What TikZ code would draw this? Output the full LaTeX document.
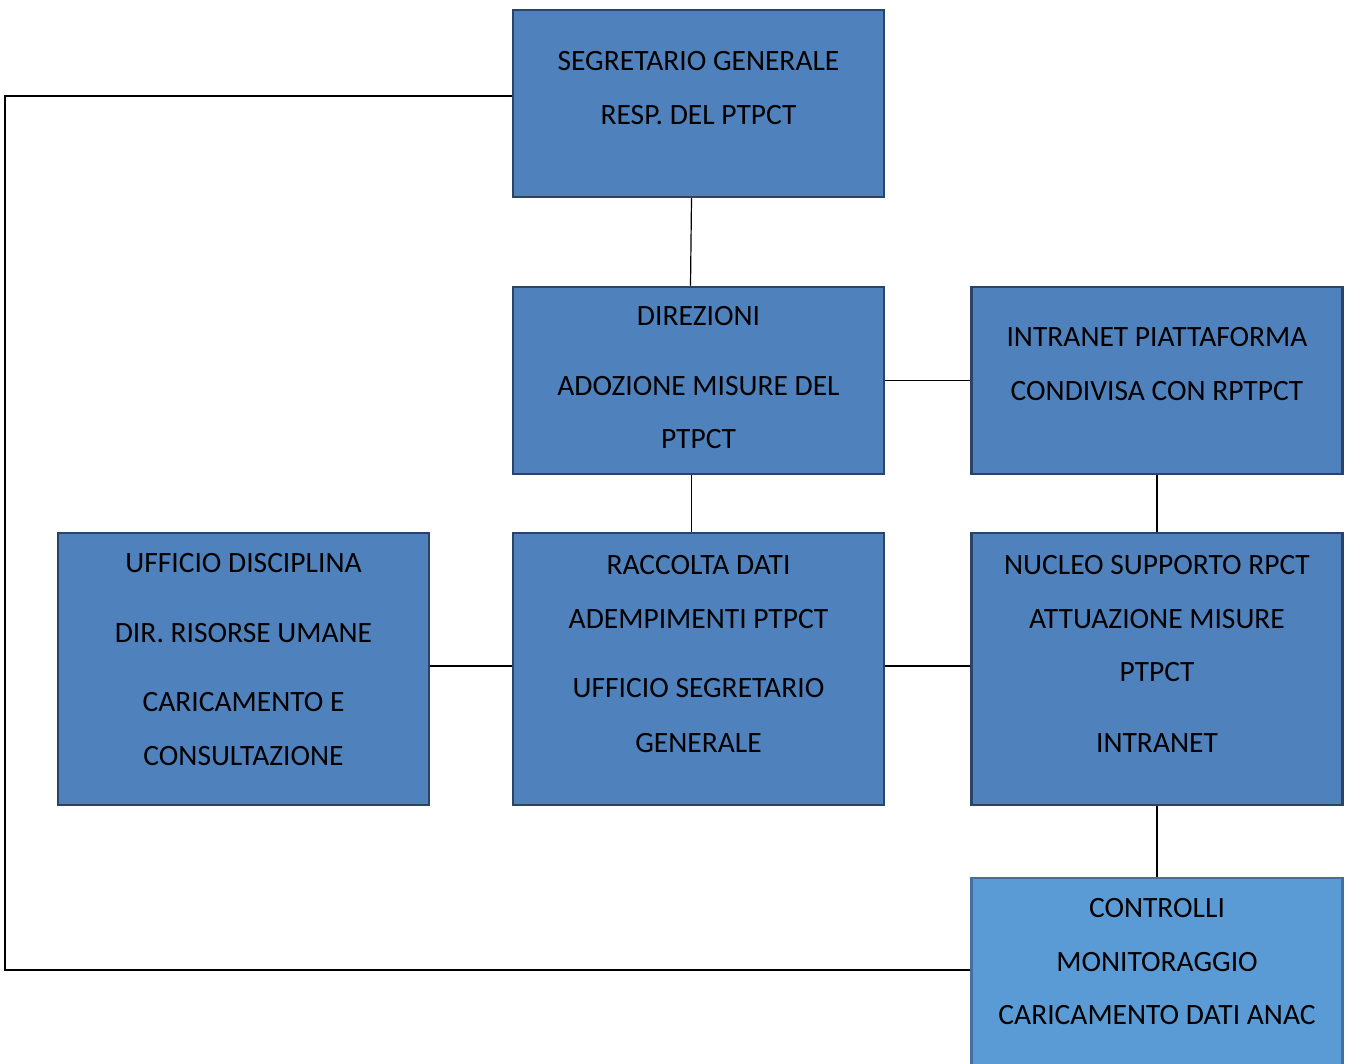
\documentclass[tikz,border=0pt]{standalone}
\usepackage{fontspec}
\setmainfont{Carlito}
\definecolor{boxfill}{HTML}{4F81BD}
\definecolor{boxline}{HTML}{2A4468}
\definecolor{lightfill}{HTML}{5B9BD5}
\definecolor{lightline}{HTML}{41719C}
\begin{document}
\begin{tikzpicture}[x=1pt,y=-1pt,
  orgbox/.style={draw=boxline,fill=boxfill,line width=2.5pt,inner sep=0pt,minimum width=371pt},
  lightbox/.style={draw=lightline,fill=lightfill,line width=2.5pt,inner sep=0pt,minimum width=371pt},
  txt/.style={inner sep=0pt,font=\fontsize{29.5}{34}\selectfont},
  conn/.style={draw=black,line width=1.2pt}]
\useasboundingbox (0,0) rectangle (1351,1064);
% boxes
\node[orgbox,minimum height=187pt] (seg) at (698.5,103.5) {};
\node[orgbox,minimum height=187pt] (dir) at (698.5,380.5) {};
\node[orgbox,minimum height=187pt] (intra) at (1157,380.5) {};
\node[orgbox,minimum height=272pt] (uff) at (243.5,669) {};
\node[orgbox,minimum height=272pt] (racc) at (698.5,669) {};
\node[orgbox,minimum height=272pt] (nuc) at (1157,669) {};
\node[lightbox,minimum height=194pt] (contr) at (1157,975) {};
% texts
\node[txt] (t1) at (698.5,61) {SEGRETARIO GENERALE};
\node[txt] (t2) at (698.5,115) {RESP. DEL PTPCT};
\node[txt] (t3) at (698.5,316) {DIREZIONI};
\node[txt] (t4) at (698.5,386) {ADOZIONE MISURE DEL};
\node[txt] (t5) at (698.5,439) {PTPCT};
\node[txt] (t6) at (1157,337) {INTRANET PIATTAFORMA};
\node[txt] (t7) at (1157,391) {CONDIVISA CON RPTPCT};
\node[txt] (t8) at (243.5,563) {UFFICIO DISCIPLINA};
\node[txt] (t9) at (243.5,633) {DIR. RISORSE UMANE};
\node[txt] (t10) at (243.5,702) {CARICAMENTO E};
\node[txt] (t11) at (243.5,756) {CONSULTAZIONE};
\node[txt] (t12) at (698.5,565) {RACCOLTA DATI};
\node[txt] (t13) at (698.5,619) {ADEMPIMENTI PTPCT};
\node[txt] (t14) at (698.5,688) {UFFICIO SEGRETARIO};
\node[txt] (t15) at (698.5,743) {GENERALE};
\node[txt] (t16) at (1157,565) {NUCLEO SUPPORTO RPCT};
\node[txt] (t17) at (1157,619) {ATTUAZIONE MISURE};
\node[txt] (t18) at (1157,672) {PTPCT};
\node[txt] (t19) at (1157,743) {INTRANET};
\node[txt] (t20) at (1157,908) {CONTROLLI};
\node[txt] (t21) at (1157,962) {MONITORAGGIO};
\node[txt] (t22) at (1157,1015) {CARICAMENTO DATI ANAC};
% connectors
\coordinate (c1) at (5,96);
\coordinate (c2) at (5,970);
\draw[conn] ([xshift=-7pt]seg.south) -- ([xshift=-8pt]dir.north);
\draw[conn] ([xshift=-7pt]dir.south) -- ([xshift=-7pt]racc.north);
\draw[conn] (dir.east) -- (intra.west);
\draw[conn] (intra.south) -- (nuc.north);
\draw[conn] ([yshift=3pt]uff.east) -- ([yshift=3pt]racc.west);
\draw[conn] ([yshift=3pt]racc.east) -- ([yshift=3pt]nuc.west);
\draw[conn] (nuc.south) -- (contr.north);
\draw[conn] (seg.west |- c1) -- (c1) -- (c2) -- (contr.west |- c2);
\end{tikzpicture}
\end{document}
